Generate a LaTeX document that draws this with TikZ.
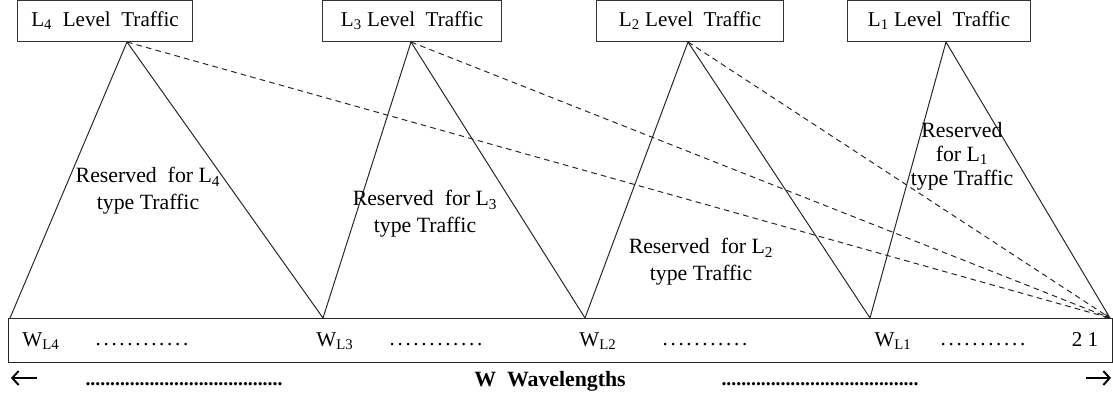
\documentclass[tikz,border=0pt]{standalone}
\usepackage{fontspec}
\setmainfont{Liberation Serif}
\usetikzlibrary{arrows.meta}

\newcommand{\gapdots}[1]{\foreach \k in {1,...,#1}{.\hspace{1.9pt}}}
\newcommand{\rowdots}[1]{\foreach \k in {1,...,#1}{.}}

\tikzset{
  levelbox/.style={draw=black!80, line width=0.7pt, minimum height=1cm, inner sep=0pt, font=\fontsize{15}{19}\selectfont},
  zigzag/.style={draw=black!85, line width=0.7pt, line join=miter},
  dashline/.style={draw=black!85, line width=0.7pt, dash pattern=on 4pt off 3pt, -{Stealth[length=4pt,width=3pt]}},
  reserved/.style={align=center, inner sep=0pt, font=\fontsize{15.5}{19}\selectfont},
  barlabel/.style={inner sep=0pt, font=\fontsize{15}{18}\selectfont},
  bigarrow/.style={line width=1.4pt, -{Straight Barb[length=4.5pt,width=10pt]}}
}

\begin{document}
\begin{tikzpicture}[x=0.025cm, y=-0.025cm]
  \useasboundingbox (0,0) rectangle (1113,400);

  % level boxes
  \node[levelbox, minimum width=4.375cm] (l4) at (105,21) {L\textsubscript{4}\ \ Level\ \ Traffic};
  \node[levelbox, minimum width=4.45cm]  (l3) at (412,21) {L\textsubscript{3} Level\ \ Traffic};
  \node[levelbox, minimum width=4.65cm]  (l2) at (690,21) {L\textsubscript{2} Level\ \ Traffic};
  \node[levelbox, minimum width=4.55cm]  (l1) at (939,21) {L\textsubscript{1} Level\ \ Traffic};

  % apexes and bottom corners
  \coordinate (a4) at (127,42);
  \coordinate (a3) at (411,42);
  \coordinate (a2) at (688,42);
  \coordinate (a1) at (946,42);
  \coordinate (v4) at (10,318);
  \coordinate (v3) at (323,318);
  \coordinate (v2) at (585,318);
  \coordinate (v1) at (870,318);
  \coordinate (v0) at (1110,318);

  % wavelength bar
  \draw[black!85, line width=0.7pt] (8,318) rectangle (1112,362);

  \draw[zigzag] (v4) -- (a4) -- (v3) -- (a3) -- (v2) -- (a2) -- (v1) -- (a1) -- (v0);

  \draw[dashline] (a4) -- (v0);
  \draw[dashline] (a3) -- (v0);
  \draw[dashline] (a2) -- (v0);

  \node[reserved] (r4) at (148,191) {Reserved~ for L\textsubscript{4}\\type Traffic};
  \node[reserved] (r3) at (425,214) {Reserved~ for L\textsubscript{3}\\type Traffic};
  \node[reserved] (r2) at (701,262) {Reserved~ for L\textsubscript{2}\\type Traffic};
  \node[reserved, font=\fontsize{15.5}{17}\selectfont] (r1) at (962,156) {Reserved\\for L\textsubscript{1}\\type Traffic};

  % labels inside the bar
  \node[barlabel] (w4) at (41,341) {W\textsubscript{L4}};
  \node[barlabel] (d4) at (142,345) {\gapdots{12}};
  \node[barlabel] (w3) at (335,341) {W\textsubscript{L3}};
  \node[barlabel] (d3) at (436,345) {\gapdots{12}};
  \node[barlabel] (w2) at (598,341) {W\textsubscript{L2}};
  \node[barlabel] (d2) at (705,345) {\gapdots{11}};
  \node[barlabel] (w1) at (893,341) {W\textsubscript{L1}};
  \node[barlabel] (d1) at (983,345) {\gapdots{11}};
  \node[barlabel] (n21) at (1085,340) {2 1};

  % bottom row
  \coordinate (la) at (37,378);
  \coordinate (lb) at (11,378);
  \coordinate (ra) at (1086,378);
  \coordinate (rb) at (1111,378);
  \draw[bigarrow] (la) -- (lb);
  \draw[bigarrow] (ra) -- (rb);
  \node[barlabel, font=\fontsize{14}{17}\bfseries] (ld) at (184,384) {\rowdots{40}};
  \node[barlabel, font=\fontsize{15.5}{18}\bfseries] (wl) at (550,381) {W\ \ Wavelengths};
  \node[barlabel, font=\fontsize{14}{17}\bfseries] (rd) at (820,384) {\rowdots{40}};
\end{tikzpicture}
\end{document}
